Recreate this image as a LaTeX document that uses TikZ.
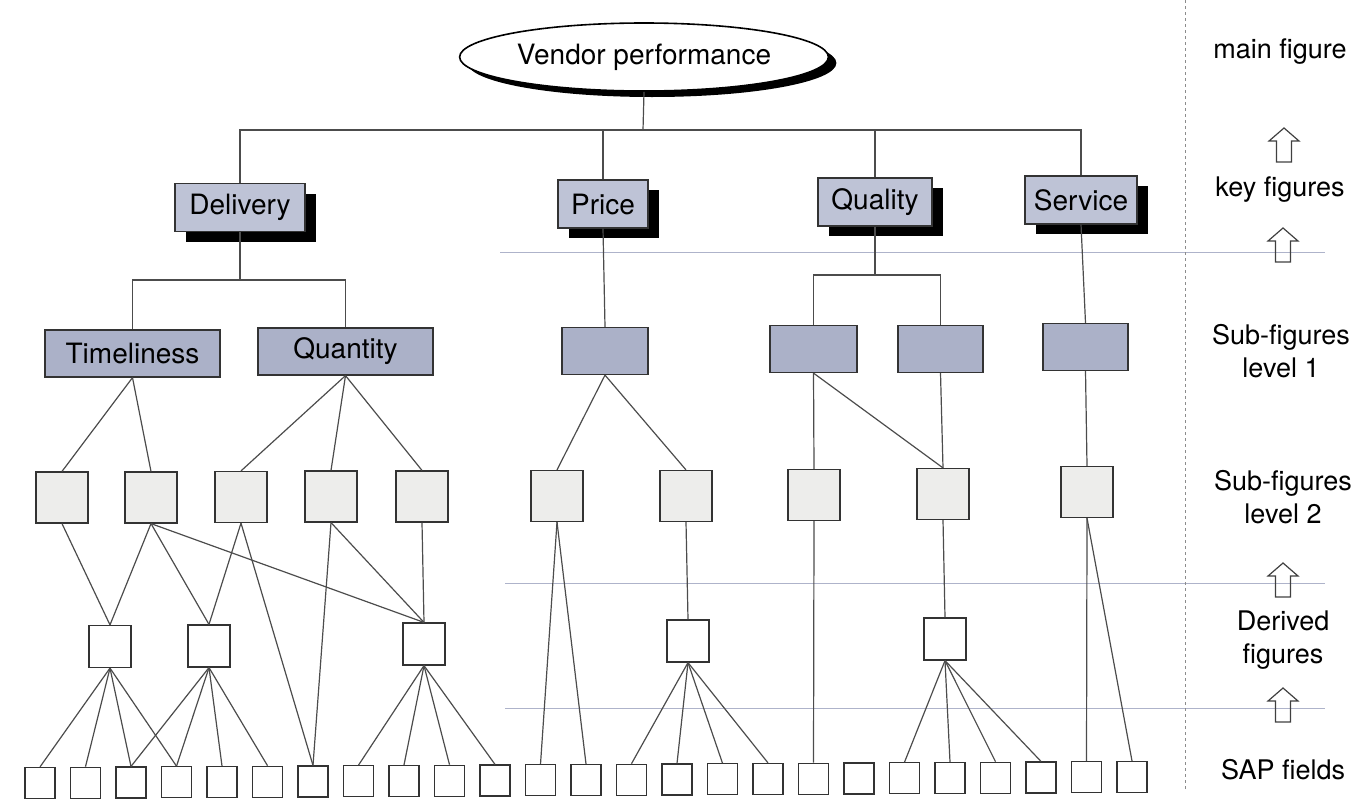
\documentclass[tikz,border=0pt]{standalone}
\usepackage{fontspec}
\setmainfont{TeX Gyre Heros}
\usepackage{xcolor}
\usepackage{tikz}
\usetikzlibrary{shapes.geometric,shadows}

\definecolor{keyfill}{HTML}{BEC3D6}
\definecolor{subfill}{HTML}{ABB1C8}
\definecolor{lowfill}{HTML}{EDEDEB}
\definecolor{sepline}{HTML}{AEB3CA}

\begin{document}
\begin{tikzpicture}[
		%Global config
		x=1pt, y=-1pt,
		line width=1.2pt,
		color=black!70,
		%Styles
		Top/.style={
			ellipse,
			draw=black,
			line width=1.6pt,
			fill=white,
			text=black,
			minimum width=335pt,
			minimum height=68pt,
			font=\fontsize{28}{30}\selectfont,
			drop shadow={shadow xshift=8pt, shadow yshift=-6pt, opacity=1, fill=black},
		},
		Key/.style={
			rectangle,
			draw=black!80,
			fill=keyfill,
			text=black,
			inner sep=0pt,
			minimum height=48pt,
			font=\fontsize{28}{30}\selectfont,
			drop shadow={shadow xshift=11pt, shadow yshift=-10pt, opacity=1, fill=black},
		},
		SubA/.style={
			rectangle,
			draw=black!80,
			fill=subfill,
			text=black,
			inner sep=0pt,
			minimum height=47pt,
			font=\fontsize{28}{30}\selectfont,
		},
		SubB/.style={
			rectangle,
			draw=black!80,
			fill=lowfill,
			inner sep=0pt,
			minimum width=52pt,
			minimum height=51pt,
		},
		Derived/.style={
			rectangle,
			draw=black!80,
			fill=white,
			inner sep=0pt,
			minimum width=42pt,
			minimum height=42pt,
		},
		Field/.style={
			rectangle,
			draw=black!80,
			fill=white,
			inner sep=0pt,
			minimum width=30pt,
			minimum height=31pt,
		},
		Legend/.style={
			align=center,
			text=black,
			font=\fontsize{27}{33}\selectfont,
		},
		Separator/.style={
			line width=1pt,
			color=sepline,
		},
		uparrow/.pic={
			\draw[line width=1.2pt, black!75] (-7.5,17) -- (-7.5,-4) -- (-15,-4) -- (0,-17) -- (15,-4) -- (7.5,-4) -- (7.5,17) -- cycle;
		},
		]

		\useasboundingbox (0,0) rectangle (1372,806);

		% level lines and legend column
		\draw[Separator] (500,252) -- (1325,252);
		\draw[Separator] (505,583) -- (1325,583);
		\draw[Separator] (505,708) -- (1325,708);
		\draw[black!45, line width=0.8pt, dash pattern=on 3pt off 3pt] (1185,0) -- (1185,790);

		\node[Legend] (lmain) at (1280,52) {main figure};
		\node[Legend] (lkey) at (1280,190) {key figures};
		\node[Legend] (lsub1) at (1281,351) {Sub-figures\\level 1};
		\node[Legend] (lsub2) at (1283,497) {Sub-figures\\level 2};
		\node[Legend] (lder) at (1283,640) {Derived\\figures};
		\node[Legend] (lsap) at (1283,770) {SAP fields};
		\pic at (1284,145) {uparrow};
		\pic at (1283,245) {uparrow};
		\pic at (1283,580) {uparrow};
		\pic at (1283,705) {uparrow};

		% main and key figures
		\node[Top] (vp) at (644,57) {Vendor performance};
		\node[Key, minimum width=130pt] (delivery) at (240,207.5) {Delivery};
		\node[Key, minimum width=90pt] (price) at (603,204) {Price};
		\node[Key, minimum width=114pt] (quality) at (875,202) {Quality};
		\node[Key, minimum width=112pt] (service) at (1081,200) {Service};

		\coordinate (busA) at (643,130);
		\coordinate (busB) at (240,280);
		\coordinate (busC) at (875,275);

		% sub-figures level 1
		\node[SubA, minimum width=175pt] (time) at (132.5,353.5) {Timeliness};
		\node[SubA, minimum width=175pt] (quant) at (345.5,351.5) {Quantity};
		\node[SubA, minimum width=86pt] (pricesub) at (605,351) {};
		\node[SubA, minimum width=87pt] (qualA) at (813.5,349) {};
		\node[SubA, minimum width=85pt] (qualB) at (940.5,349) {};
		\node[SubA, minimum width=85pt] (servsub) at (1085.5,347) {};

		% sub-figures level 2
		\foreach \n/\x/\y in {a/62/497.5, b/151/497.5, c/241/497, d/331/496.5, e/422/496.5,
			f/557/496, g/686/496, h/814/495, i/943/494, j/1087/492}
			\node[SubB] (l2\n) at (\x,\y) {};

		% derived figures
		\foreach \n/\x/\y in {1/110/646.5, 2/209/646, 3/424/644, 4/688/641, 5/945/639}
			\node[Derived] (d\n) at (\x,\y) {};

		% SAP fields
		\foreach \i in {1,...,25}
			\node[Field] (s\i) at ({40+45.5*(\i-1)},{783-0.25*(\i-1)}) {};

		% tree links
		\draw (vp.south) -- (busA);
		\foreach \k in {delivery,price,quality,service}
			\draw (\k.north) |- (busA);
		\draw (delivery.south) -- (busB);
		\draw (time.north) |- (busB);
		\draw (quant.north) |- (busB);
		\draw (price.south) -- (pricesub.north);
		\draw (quality.south) -- (busC);
		\draw (qualA.north) |- (busC);
		\draw (qualB.north) |- (busC);
		\draw (service.south) -- (servsub.north);

		\foreach \a/\b in {time/l2a, time/l2b, quant/l2c, quant/l2d, quant/l2e,
			pricesub/l2f, pricesub/l2g, qualA/l2h, qualA/l2i, qualB/l2i, servsub/l2j,
			l2a/d1, l2b/d1, l2b/d2, l2b/d3, l2c/d2, l2c/s7, l2d/s7, l2d/d3, l2e/d3,
			l2f/s12, l2f/s13, l2g/d4, l2h/s18, l2i/d5, l2j/s24, l2j/s25}
			\draw (\a.south) -- (\b.north);

		\foreach \a/\b in {d1/1, d1/2, d1/3, d1/4, d2/3, d2/4, d2/5, d2/6,
			d3/8, d3/9, d3/10, d3/11, d4/14, d4/15, d4/16, d4/17,
			d5/20, d5/21, d5/22, d5/23}
			\draw (\a.south) -- (s\b.north);
	\end{tikzpicture}
\end{document}
